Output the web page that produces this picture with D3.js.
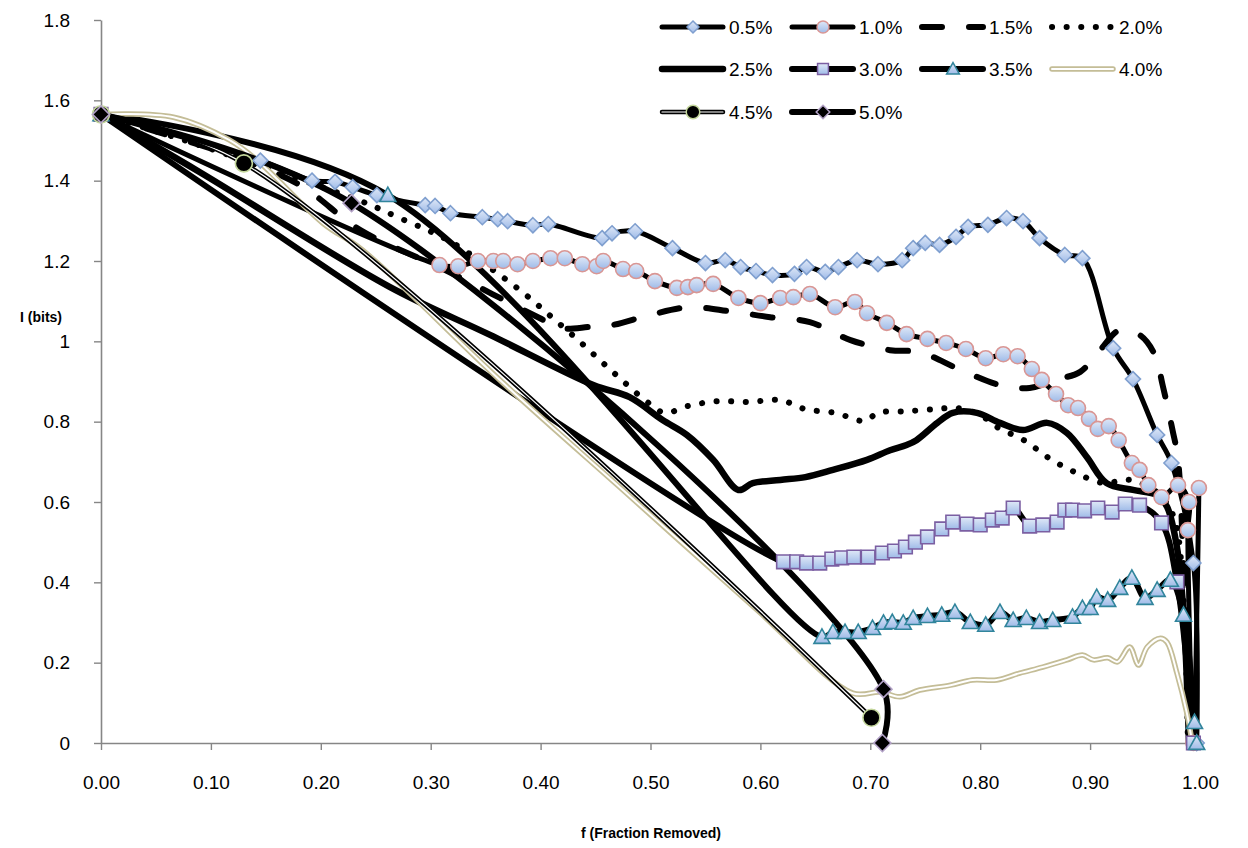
<!DOCTYPE html>
<html>
<head>
<meta charset="utf-8">
<script src="https://cdn.jsdelivr.net/npm/d3@7"></script>
<style>
  html, body { margin: 0; padding: 0; background: #fff; }
  svg { display: block; font-family: "Liberation Sans", Arial, sans-serif; }
</style>
</head>
<body>
<svg id="chart" width="1248" height="848"></svg>
<script>
// ---------------- DATA ----------------
const seriesNames = ["0.5%", "1.0%", "1.5%", "2.0%", "2.5%", "3.0%", "3.5%", "4.0%", "4.5%", "5.0%"];
const xTickValues = [0, 0.1, 0.2, 0.3, 0.4, 0.5, 0.6, 0.7, 0.8, 0.9, 1.0];
const yTickValues = [0, 0.2, 0.4, 0.6, 0.8, 1.0, 1.2, 1.4, 1.6, 1.8];

const s05 = [[0,1.565],[0.145,1.45],[0.192,1.40],[0.213,1.397],[0.229,1.384],[0.251,1.364],[0.295,1.339],[0.304,1.337],[0.318,1.319],[0.347,1.309],[0.361,1.304],[0.370,1.299],[0.393,1.289],[0.407,1.292],[0.456,1.257],[0.465,1.269],[0.486,1.274],[0.520,1.232],[0.550,1.195],[0.568,1.202],[0.582,1.185],[0.596,1.175],[0.611,1.165],[0.631,1.168],[0.642,1.185],[0.659,1.173],[0.671,1.185],[0.688,1.202],[0.707,1.192],[0.729,1.202],[0.739,1.232],[0.750,1.245],[0.763,1.240],[0.778,1.260],[0.789,1.285],[0.807,1.290],[0.824,1.307],[0.839,1.299],[0.854,1.257],[0.877,1.215],[0.893,1.207],[0.921,0.983],[0.939,0.906],[0.961,0.767],[0.974,0.697],[0.994,0.448],[0.997,0.0]];
const s10 = [[0,1.565],[0.308,1.190],[0.325,1.187],[0.343,1.200],[0.357,1.200],[0.366,1.200],[0.379,1.192],[0.393,1.200],[0.409,1.207],[0.422,1.207],[0.438,1.192],[0.451,1.187],[0.457,1.200],[0.475,1.180],[0.487,1.175],[0.504,1.150],[0.524,1.133],[0.534,1.135],[0.542,1.140],[0.557,1.143],[0.580,1.108],[0.600,1.095],[0.618,1.108],[0.630,1.110],[0.645,1.118],[0.668,1.085],[0.686,1.098],[0.697,1.070],[0.715,1.046],[0.733,1.018],[0.752,1.006],[0.769,0.996],[0.787,0.981],[0.805,0.958],[0.821,0.968],[0.834,0.963],[0.847,0.931],[0.856,0.904],[0.869,0.869],[0.880,0.841],[0.889,0.834],[0.899,0.807],[0.907,0.782],[0.917,0.789],[0.926,0.754],[0.938,0.697],[0.945,0.680],[0.953,0.642],[0.965,0.612],[0.980,0.642],[0.990,0.600],[0.989,0.530],[0.994,0.0],[0.999,0.635]];
const s15 = [[0,1.565],[0.046,1.526],[0.117,1.464],[0.181,1.389],[0.236,1.277],[0.310,1.182],[0.331,1.153],[0.363,1.108],[0.399,1.058],[0.418,1.033],[0.445,1.036],[0.466,1.041],[0.500,1.066],[0.536,1.085],[0.572,1.075],[0.609,1.060],[0.645,1.048],[0.682,1.003],[0.718,0.978],[0.745,0.973],[0.782,0.929],[0.818,0.891],[0.845,0.884],[0.868,0.904],[0.891,0.924],[0.909,0.978],[0.927,1.028],[0.945,1.016],[0.959,0.966],[0.966,0.891],[0.975,0.779],[0.980,0.705],[0.986,0.356],[0.991,0.0]];
const s20 = [[0,1.565],[0.081,1.496],[0.177,1.407],[0.243,1.342],[0.270,1.309],[0.297,1.277],[0.320,1.245],[0.345,1.200],[0.368,1.155],[0.390,1.108],[0.411,1.058],[0.433,1.006],[0.454,0.953],[0.475,0.901],[0.497,0.849],[0.513,0.822],[0.534,0.839],[0.561,0.851],[0.590,0.849],[0.618,0.854],[0.641,0.831],[0.668,0.822],[0.695,0.802],[0.707,0.822],[0.733,0.826],[0.759,0.831],[0.779,0.834],[0.800,0.817],[0.815,0.787],[0.841,0.752],[0.861,0.712],[0.884,0.677],[0.912,0.647],[0.936,0.655],[0.964,0.617],[0.977,0.555],[0.985,0.356],[0.989,0.0]];
const s25 = [[0,1.565],[0.09,1.421],[0.263,1.135],[0.354,1.016],[0.448,0.891],[0.481,0.861],[0.511,0.804],[0.533,0.767],[0.557,0.705],[0.580,0.630],[0.593,0.647],[0.618,0.655],[0.641,0.662],[0.666,0.680],[0.697,0.705],[0.718,0.729],[0.733,0.742],[0.742,0.754],[0.761,0.797],[0.775,0.822],[0.797,0.822],[0.818,0.797],[0.839,0.779],[0.861,0.797],[0.879,0.772],[0.897,0.712],[0.915,0.647],[0.939,0.630],[0.961,0.617],[0.970,0.588],[0.979,0.488],[0.985,0.324],[0.990,0.0]];
const s30 = [[0,1.565],[0.621,0.451],[0.633,0.451],[0.642,0.448],[0.654,0.448],[0.665,0.458],[0.674,0.461],[0.685,0.463],[0.698,0.463],[0.711,0.473],[0.722,0.478],[0.732,0.488],[0.741,0.500],[0.752,0.513],[0.765,0.533],[0.775,0.550],[0.788,0.545],[0.800,0.543],[0.811,0.555],[0.820,0.560],[0.830,0.585],[0.845,0.540],[0.857,0.543],[0.870,0.550],[0.877,0.580],[0.884,0.580],[0.895,0.578],[0.907,0.585],[0.920,0.575],[0.932,0.595],[0.945,0.592],[0.965,0.548],[0.979,0.401],[0.994,0.0]];
const s35 = [[0,1.565],[0.261,1.364],[0.656,0.264],[0.666,0.276],[0.677,0.276],[0.689,0.276],[0.702,0.286],[0.712,0.299],[0.720,0.301],[0.730,0.299],[0.739,0.311],[0.752,0.316],[0.765,0.319],[0.777,0.326],[0.791,0.301],[0.805,0.294],[0.818,0.326],[0.830,0.306],[0.842,0.311],[0.854,0.301],[0.866,0.306],[0.884,0.314],[0.893,0.336],[0.900,0.336],[0.906,0.363],[0.916,0.356],[0.927,0.386],[0.938,0.411],[0.950,0.361],[0.961,0.381],[0.973,0.406],[0.985,0.319],[0.995,0.052],[0.997,0.0]];
const s40 = [[0,1.565],[0.066,1.558],[0.117,1.501],[0.142,1.451],[0.202,1.294],[0.238,1.227],[0.366,0.896],[0.481,0.615],[0.597,0.331],[0.684,0.124],[0.709,0.127],[0.727,0.115],[0.745,0.132],[0.773,0.144],[0.793,0.157],[0.815,0.157],[0.836,0.174],[0.857,0.189],[0.879,0.207],[0.893,0.219],[0.903,0.207],[0.916,0.212],[0.925,0.202],[0.936,0.239],[0.944,0.194],[0.952,0.239],[0.964,0.261],[0.970,0.251],[0.979,0.174],[0.988,0.075],[0.993,0.0]];
const s45 = [[0,1.565],[0.130,1.443],[0.701,0.063]];
const s50 = [[0,1.565],[0.228,1.344],[0.712,0.134],[0.711,0.0]];

// ---------------- SETUP ----------------
const svg = d3.select("#chart");
const x = d3.scaleLinear().domain([0, 1]).range([101, 1200]);
const y = d3.scaleLinear().domain([0, 1.8]).range([743, 20]);

const defs = svg.append("defs");
const grad = defs.append("linearGradient").attr("id", "mk").attr("x1", 0).attr("y1", 0).attr("x2", 0).attr("y2", 1);
grad.append("stop").attr("offset", "0%").attr("stop-color", "#dfe8f7");
grad.append("stop").attr("offset", "100%").attr("stop-color", "#9fbbe8");

// styles
const styles = [
  { key: "0.5%", data: s05, layers: [{c:"#000", w:5}], marker: "diamond", mfill: "url(#mk)", mstroke: "#7f9fcf", ms: 7.5 },
  { key: "1.0%", data: s10, layers: [{c:"#000", w:5}], marker: "circle", mfill: "url(#mk)", mstroke: "#d99694", ms: 7.5 },
  { key: "1.5%", data: s15, layers: [{c:"#000", w:6, dash:"20,27", cap:"round"}], marker: null },
  { key: "2.0%", data: s20, layers: [{c:"#000", w:6, dash:"0.1,14.5", cap:"round"}], marker: null },
  { key: "2.5%", data: s25, layers: [{c:"#000", w:6.5}], marker: null },
  { key: "3.0%", data: s30, layers: [{c:"#000", w:6}], marker: "square", mfill: "url(#mk)", mstroke: "#7b5fa2", ms: 6.8 },
  { key: "3.5%", data: s35, layers: [{c:"#000", w:6}], marker: "triangle", mfill: "url(#mk)", mstroke: "#31859c", ms: 8 },
  { key: "4.0%", data: s40, layers: [{c:"#c4bd97", w:5.5},{c:"#fff", w:2}], marker: null },
  { key: "4.5%", data: s45, layers: [{c:"#000", w:4.5},{c:"#fff", w:1.2}], marker: "circle", mfill: "#000", mstroke: "#c3d69b", ms: 8.5 },
  { key: "5.0%", data: s50, layers: [{c:"#000", w:6}], marker: "diamond", mfill: "#000", mstroke: "#b3a2c7", ms: 8.5 }
];

function markerPath(type, r) {
  switch (type) {
    case "diamond": return `M0,${-r}L${r},0L0,${r}L${-r},0Z`;
    case "square": return `M${-r},${-r}H${r}V${r}H${-r}Z`;
    case "triangle": return `M0,${-r}L${r},${r*0.8}L${-r},${r*0.8}Z`;
    case "circle": return d3.symbol(d3.symbolCircle, Math.PI * r * r)();
  }
}

// ---------------- AXES ----------------
const axisColor = "#868686";
const gx = svg.append("g").attr("transform", `translate(0,${y(0)})`)
  .call(d3.axisBottom(x).tickValues(xTickValues).tickFormat(d3.format(".2f")).tickSize(7).tickSizeOuter(0));
gx.select(".domain").attr("stroke", axisColor).attr("stroke-width", 1.6);
gx.selectAll(".tick line").attr("stroke", axisColor).attr("stroke-width", 1.4);
gx.selectAll(".tick text").attr("y", 33).attr("font-size", 19).attr("fill", "#000")
  .style("font-family", "'Liberation Sans', Arial, sans-serif");

const gy = svg.append("g").attr("transform", `translate(${x(0)},0)`)
  .call(d3.axisLeft(y).tickValues(yTickValues).tickFormat(d => String(+d.toFixed(1))).tickSize(7).tickSizeOuter(0).tickPadding(24));
gy.select(".domain").attr("stroke", axisColor).attr("stroke-width", 1.6);
gy.selectAll(".tick line").attr("stroke", axisColor).attr("stroke-width", 1.4);
gy.selectAll(".tick text").attr("font-size", 19).attr("fill", "#000")
  .style("font-family", "'Liberation Sans', Arial, sans-serif");

svg.append("text").attr("x", 41).attr("y", 322).attr("text-anchor", "middle")
  .attr("font-size", 14).attr("font-weight", "bold").text("I (bits)");
svg.append("text").attr("x", 651).attr("y", 838).attr("text-anchor", "middle")
  .attr("font-size", 14).attr("font-weight", "bold").text("f (Fraction Removed)");

// ---------------- LINES ----------------
const line = d3.line().x(d => x(d[0])).y(d => y(d[1])).curve(d3.curveCatmullRom.alpha(0.5));
const plot = svg.append("g");
styles.forEach(s => {
  s.layers.forEach(l => {
    plot.append("path").attr("d", line(s.data)).attr("fill", "none")
      .attr("stroke", l.c).attr("stroke-width", l.w)
      .attr("stroke-linejoin", "round").attr("stroke-linecap", l.cap || "round")
      .attr("stroke-dasharray", l.dash || null);
  });
});
// markers on top
styles.forEach(s => {
  if (!s.marker) return;
  plot.append("g").selectAll("path").data(s.data).join("path")
    .attr("transform", d => `translate(${x(d[0])},${y(d[1])})`)
    .attr("d", markerPath(s.marker, s.ms))
    .attr("fill", s.mfill).attr("stroke", s.mstroke).attr("stroke-width", 1.6);
});

// ---------------- LEGEND ----------------
const legend = svg.append("g");
const colX = [662, 792, 922, 1052];
const rowY = [27, 69, 112];
styles.forEach((s, i) => {
  const cx = colX[i % 4], cy = rowY[Math.floor(i / 4)];
  const g = legend.append("g").attr("transform", `translate(${cx},${cy})`);
  s.layers.forEach(l => {
    g.append("line").attr("x1", 0).attr("x2", 61).attr("y1", 0).attr("y2", 0)
      .attr("stroke", l.c).attr("stroke-width", l.w)
      .attr("stroke-linecap", l.cap || "round")
      .attr("stroke-dasharray", l.dash || null);
  });
  if (s.marker) {
    g.append("path").attr("transform", "translate(31,0)")
      .attr("d", markerPath(s.marker, s.ms * 0.8))
      .attr("fill", s.mfill).attr("stroke", s.mstroke).attr("stroke-width", 1.5);
  }
  g.append("text").attr("x", 67).attr("y", 0).attr("dy", "0.35em")
    .attr("font-size", 19).text(s.key);
});
</script>
</body>
</html>
